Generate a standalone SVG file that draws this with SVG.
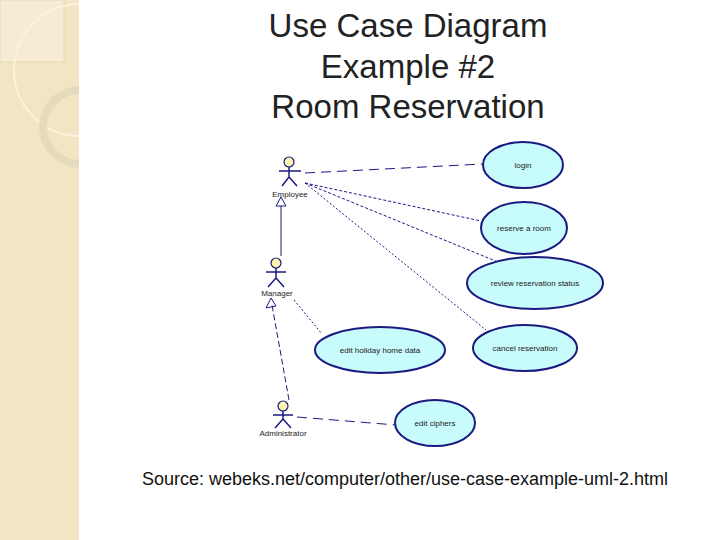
<svg xmlns="http://www.w3.org/2000/svg" width="720" height="540" viewBox="0 0 720 540">
<style>
.uc{fill:#c8fbfb;stroke:#1a1a80;stroke-width:2}
.ut{font-family:"Liberation Sans",Arial,sans-serif;font-size:8px;fill:#222;text-anchor:middle}
.act{stroke:#1a1a80;stroke-width:1.5;fill:none}
.head{fill:#fbf5b0;stroke:#1a1a80;stroke-width:1.2}
.con{stroke:#1a1a80;stroke-width:1;fill:none}
.t{font-family:"Liberation Sans",Arial,sans-serif;font-size:33px;fill:#222;text-anchor:middle}
</style>
<rect width="720" height="540" fill="#fff"/>
<rect x="0" y="0" width="79" height="540" fill="#f3e5c4"/>
<rect x="0" y="0" width="64" height="62" fill="#f6ecd4" stroke="#d8c8a0" stroke-width="0.5"/>
<circle cx="80" cy="70" r="66" fill="none" stroke="#fbf3dc" stroke-width="2"/>
<circle cx="80" cy="127" r="37" fill="none" stroke="#e6dabc" stroke-width="8"/>
<rect x="79" y="0" width="641" height="540" fill="#fff"/>
<text class="t" x="408" y="37">Use Case Diagram</text>
<text class="t" x="408" y="78">Example #2</text>
<text class="t" x="408" y="118">Room Reservation</text>
<g id="connectors">
<path class="con" stroke-dasharray="10,6" d="M305 173 L483 164"/>
<path class="con" stroke-dasharray="3,2" d="M305 183 L481 221"/>
<path class="con" stroke-dasharray="3,2" d="M305 183 L498 262"/>
<path class="con" stroke-dasharray="2,2" d="M305 183 L486 330"/>
<path class="con" d="M281 206 L281 256"/>
<path class="con" fill="#fff" d="M276 206 L281 197 L286 206 Z"/>
<path class="con" stroke-dasharray="2,2" d="M294 300 L322 334"/>
<path class="con" stroke-dasharray="6,3" d="M289 400 L272 305"/>
<path class="con" fill="#fff" d="M266 308 L271 298 L276 306 Z"/>
<path class="con" stroke-dasharray="10,6" d="M297 417 L396 425"/>
</g>
<g id="employee">
<circle class="head" cx="289" cy="162" r="5"/>
<path class="act" d="M289 167 V177 M279 171 H301 M289 177 L282 186 M289 177 L297 186"/>
<text class="ut" x="290" y="197">Employee</text>
</g>
<g id="manager">
<circle class="head" cx="276" cy="263" r="5"/>
<path class="act" d="M276 268 V278 M266 272 H286 M276 278 L268 287 M276 278 L284 287"/>
<text class="ut" x="277" y="296">Manager</text>
</g>
<g id="administrator">
<circle class="head" cx="283" cy="406" r="5"/>
<path class="act" d="M283 411 V419 M273 415 H293 M283 419 L275 428 M283 419 L291 428"/>
<text class="ut" x="283" y="436">Administrator</text>
</g>
<g id="login"><ellipse class="uc" cx="523" cy="165" rx="40" ry="23"/><text class="ut" x="523" y="168">login</text></g>
<g id="reserve"><ellipse class="uc" cx="524" cy="228" rx="43" ry="26"/><text class="ut" x="524" y="231">reserve a room</text></g>
<g id="review"><ellipse class="uc" cx="535" cy="283" rx="68" ry="26"/><text class="ut" x="535" y="286">review reservation status</text></g>
<g id="cancel"><ellipse class="uc" cx="525" cy="348" rx="52" ry="23"/><text class="ut" x="525" y="351">cancel reservation</text></g>
<g id="holiday"><ellipse class="uc" cx="380" cy="350" rx="65" ry="23"/><text class="ut" x="380" y="353">edit holiday home data</text></g>
<g id="ciphers"><ellipse class="uc" cx="435" cy="423" rx="40" ry="23"/><text class="ut" x="435" y="426">edit ciphers</text></g>
<text x="405" y="485" font-family="Liberation Sans,Arial,sans-serif" font-size="18" fill="#111" text-anchor="middle">Source: webeks.net/computer/other/use-case-example-uml-2.html</text>
</svg>
